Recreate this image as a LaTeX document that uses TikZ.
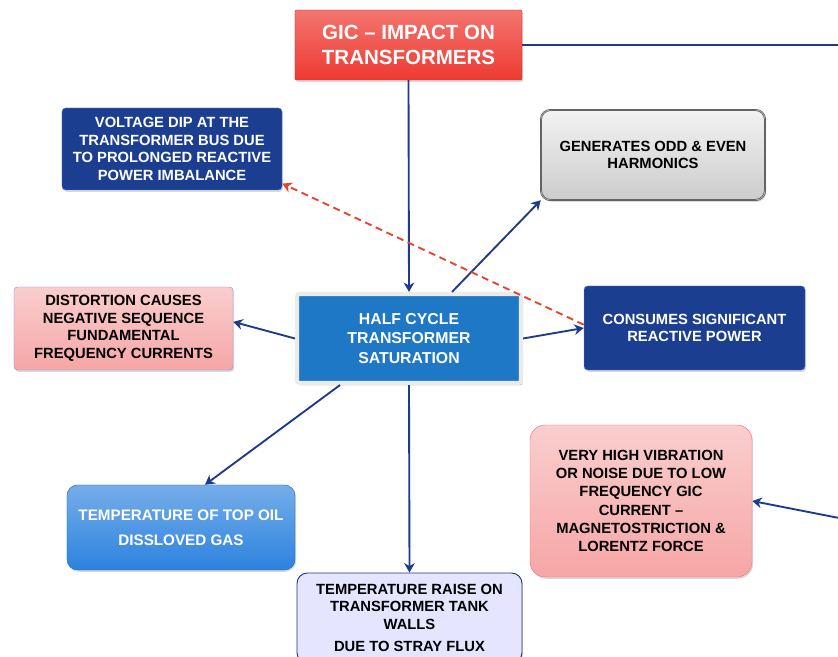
\documentclass[tikz,border=0pt]{standalone}
\usepackage{fontspec}
\setmainfont{Liberation Sans}
\usetikzlibrary{shadows,arrows.meta}
\definecolor{navy}{HTML}{1F3A8A}
\definecolor{titlered}{HTML}{EE3A32}
\definecolor{deepblue}{HTML}{1C3E90}
\definecolor{midblue}{HTML}{1F78C6}
\definecolor{oilblue}{HTML}{2C82DE}
\definecolor{pinkfill}{HTML}{F6A6A6}
\definecolor{dashred}{HTML}{E8432C}
\tikzset{
	box/.style = {align=center, inner sep=2pt, font=\bfseries\fontsize{12.6}{15}\selectfont,
		drop shadow={shadow xshift=1pt, shadow yshift=-1.5pt, opacity=.3}},
	titlebox/.style = {box, white, top color=titlered!70!white, bottom color=titlered, draw=titlered!80!black,
		rounded corners=1pt, font=\bfseries\fontsize{17.5}{22}\selectfont},
	darkbox/.style = {box, white, fill=deepblue, draw=deepblue!60!white, rounded corners=3pt},
	greybox/.style = {box, black, top color=black!5, bottom color=black!20, draw=black!75,
		double=black!35, double distance=0.8pt, rounded corners=8pt},
	pinkbox/.style = {box, black, top color=pinkfill!55!white, bottom color=pinkfill, rounded corners=3pt},
	satbox/.style = {box, white, fill=midblue, draw=black!8, line width=3.5pt, rounded corners=2pt,
		font=\bfseries\fontsize{13.5}{16.5}\selectfont,
		drop shadow={shadow xshift=1.5pt, shadow yshift=-2pt, opacity=.35}},
	oilbox/.style = {box, white, top color=oilblue!65!white, bottom color=oilblue, draw=oilblue!80!black,
		rounded corners=9pt, font=\bfseries\fontsize{13}{21}\selectfont},
	tankbox/.style = {box, black, fill=blue!10!white, draw=navy, line width=0.8pt, rounded corners=9pt},
	link/.style = {draw=navy, line width=1.6pt, -{Stealth[length=8pt,width=9pt,inset=2.5pt]}},
	sidelink/.style = {link, dashed, draw=dashred, dash pattern=on 6pt off 4pt}
}
\begin{document}
\begin{tikzpicture}[x=0.03cm, y=-0.03cm]
	\useasboundingbox (0,0) rectangle (838,657);
	\node [titlebox, minimum width=6.81cm, minimum height=2.1cm] (gic) at (408.5,45) {GIC -- IMPACT ON\\TRANSFORMERS};
	\node [darkbox, minimum width=6.6cm, minimum height=2.46cm] (dip) at (172,149)
		{VOLTAGE DIP AT THE\\TRANSFORMER BUS DUE\\TO PROLONGED REACTIVE\\POWER IMBALANCE};
	\node [greybox, minimum width=6.72cm, minimum height=2.7cm] (harm) at (653,155) {GENERATES ODD \& EVEN\\HARMONICS};
	\node [pinkbox, draw=blue!45!white, minimum width=6.57cm, minimum height=2.49cm] (dist) at (123.5,328.5)
		{DISTORTION CAUSES\\NEGATIVE SEQUENCE\\FUNDAMENTAL\\FREQUENCY CURRENTS};
	\node [satbox, minimum width=6.72cm, minimum height=2.67cm] (sat) at (409,338.5) {HALF CYCLE\\TRANSFORMER\\SATURATION};
	\node [darkbox, minimum width=6.63cm, minimum height=2.52cm] (react) at (694.5,328) {CONSUMES SIGNIFICANT\\REACTIVE POWER};
	\node [oilbox, minimum width=6.84cm, minimum height=2.55cm] (oil) at (181,527.5) {TEMPERATURE OF TOP OIL\\DISSLOVED GAS};
	\node [tankbox, minimum width=6.75cm, minimum height=2.7cm] (tank) at (409.5,618)
		{TEMPERATURE RAISE ON\\TRANSFORMER TANK\\WALLS\\[4pt]DUE TO STRAY FLUX};
	\node [pinkbox, draw=red!55!white, rounded corners=13pt, font=\bfseries\fontsize{12.6}{15.6}\selectfont,
		minimum width=6.66cm, minimum height=4.56cm] (vib) at (641,501)
		{VERY HIGH VIBRATION\\OR NOISE DUE TO LOW\\FREQUENCY GIC\\CURRENT --\\MAGNETOSTRICTION \&\\LORENTZ FORCE};
	\coordinate (farup) at (880,45);
	\coordinate (fardown) at (880,526);
	\draw [link] (gic.south) -- (sat.north);
	\draw [link] (gic.east) -- (farup) -- (fardown) -- (vib.east);
	\draw [link] ([xshift=1.29cm]sat.north) -- (harm.south west);
	\draw [link] (sat.west) -- ([yshift=0.2cm]dist.east);
	\draw [link] (sat.east) -- (react.west);
	\draw [link] ([xshift=-2.07cm]sat.south) -- ([xshift=0.72cm]oil.north);
	\draw [link] (sat.south) -- (tank.north);
	\draw [sidelink] ([yshift=0.1cm]react.west) -- ([yshift=0.2cm]dip.south east);
\end{tikzpicture}
\end{document}
